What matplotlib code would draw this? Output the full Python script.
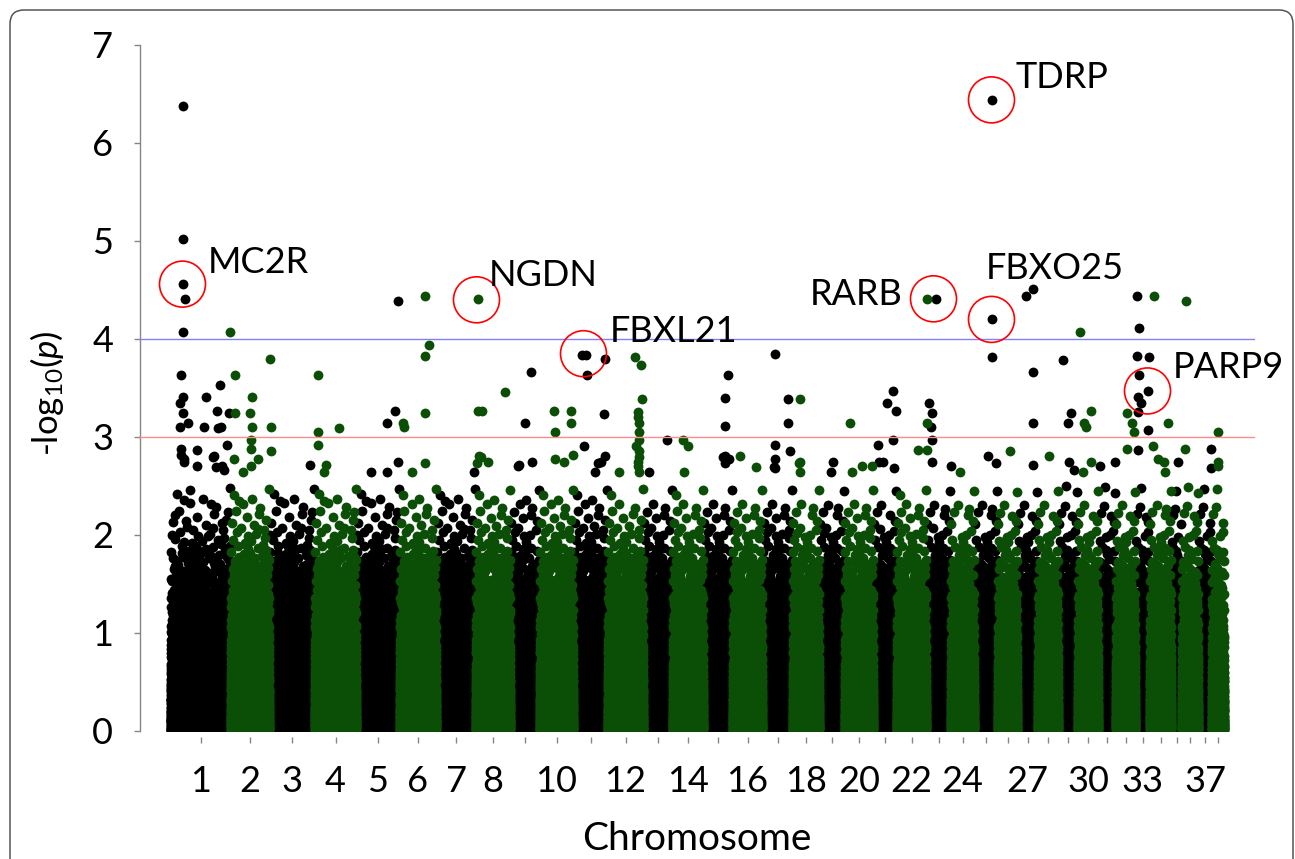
import numpy as np
import matplotlib
matplotlib.use("Agg")
import matplotlib.pyplot as plt
from matplotlib.patches import FancyBboxPatch
from matplotlib.transforms import IdentityTransform

plt.rcParams['font.family'] = ['Lato', 'DejaVu Sans']
plt.rcParams['mathtext.fontset'] = 'custom'
plt.rcParams['mathtext.rm'] = 'Lato'
plt.rcParams['mathtext.it'] = 'Lato:italic'

# ---------------- data ----------------
chromosomes = list(range(1, 39))
chrom_span = [60, 39, 45, 42, 43, 37, 39, 35, 29, 34, 34, 36, 29, 31, 29, 30, 30, 27, 25, 29,
              23, 30, 24, 24, 23, 20, 20, 21, 19, 21, 17, 20, 14, 22, 10, 17, 13, 13]
tick_labels = ['1', '2', '3', '4', '5', '6', '7', '8', '', '10', '', '12', '', '14', '', '16', '',
               '18', '', '20', '', '22', '', '24', '', '', '27', '', '', '30', '', '', '33', '', '',
               '', '37', '']
snps_per_unit = 60          # background SNP density per position unit
background_cap = 2.5        # background -log10(p) values shown up to this level

# SNPs with strongest association (chromosome, genome position, -log10 p)
sig_points = {
    1: [(12, 6.38), (12, 5.02), (12, 4.56), (14, 4.41), (12, 4.07), (10, 3.63), (49, 3.53), (12, 3.41),
        (35, 3.41), (9, 3.35), (46, 3.27), (58, 3.24), (12, 3.24), (9, 3.10), (33, 3.10), (47, 3.09),
        (17, 3.14), (50, 3.10), (10, 2.88), (26, 2.87), (56, 2.92), (43, 2.81), (51, 2.70), (13, 2.74),
        (26, 2.70), (42, 2.80), (45, 2.69), (53, 2.66), (13, 2.78), (10, 2.82)],
    2: [(59, 4.07), (64, 3.63), (99, 3.80), (81, 3.41), (64, 3.24), (79, 3.24), (81, 3.10), (100, 3.10),
        (80, 2.97), (80, 2.88), (100, 2.86), (63, 2.78), (87, 2.78), (80, 2.70), (72, 2.64)],
    3: [(139, 2.71)],
    4: [(147, 3.63), (147, 3.05), (168, 3.09), (147, 2.92), (153, 2.64), (155, 2.71)],
    5: [(227, 4.39), (224, 3.27), (216, 3.14), (227, 2.74), (200, 2.64), (216, 2.64)],
    6: [(254, 4.44), (258, 3.94), (254, 3.83), (254, 3.24), (232, 3.14), (233, 3.10), (254, 2.73), (241, 2.64)],
    7: [(303, 2.64)],
    8: [(307, 4.41), (334, 3.46), (307, 3.27), (311, 3.27), (308, 2.81), (317, 2.74), (306, 2.73), (310, 2.80)],
    9: [(360, 3.66), (354, 3.14), (347, 2.70), (361, 2.74), (348, 2.71)],
    10: [(383, 3.27), (400, 3.27), (400, 3.14), (384, 3.05), (384, 2.78), (402, 2.82), (393, 2.74)],
    11: [(415, 3.84), (411, 3.84), (434, 3.80), (416, 3.63), (433, 3.23), (413, 2.91), (430, 2.74),
         (434, 2.81), (427, 2.73), (424, 2.64)],
    12: [(464, 3.82), (470, 3.73), (471, 3.39), (467, 3.26), (467, 3.20), (468, 3.14), (468, 3.05),
         (468, 2.97), (465, 2.91), (468, 2.86), (468, 2.80), (467, 2.75), (467, 2.70), (468, 2.64), (448, 2.64)],
    13: [(496, 2.97), (478, 2.64)],
    14: [(512, 2.97), (517, 2.91), (513, 2.64)],
    15: [(557, 3.63), (554, 3.40), (554, 3.11), (554, 2.81), (558, 2.78), (552, 2.80), (554, 2.73)],
    16: [(569, 2.81), (585, 2.69)],
    17: [(604, 3.85), (617, 3.39), (617, 3.14), (604, 2.92), (619, 2.86), (604, 2.78), (604, 2.68), (603, 2.69)],
    18: [(629, 3.39), (629, 2.74), (629, 2.64), (628, 2.73)],
    19: [(662, 2.74), (660, 2.64)],
    20: [(679, 3.14), (681, 2.64), (691, 2.70), (701, 2.70)],
    21: [(707, 2.92), (708, 2.74), (712, 2.74), (722, 3.47), (716, 3.35), (725, 3.27), (722, 2.97), (723, 2.68)],
    22: [(756, 4.41), (756, 3.14), (747, 2.87), (756, 2.87)],
    23: [(765, 4.41), (758, 3.35), (761, 3.25), (760, 3.10), (761, 2.97), (761, 2.74), (780, 2.70)],
    24: [(789, 2.64)],
    25: [(821, 6.44), (821, 4.20), (821, 3.82), (817, 2.81), (825, 2.73)],
    26: [(839, 2.86)],
    27: [(855, 4.44), (862, 4.51), (862, 3.66), (862, 3.14), (862, 2.71)],
    28: [(878, 2.81)],
    29: [(892, 3.79), (900, 3.24), (897, 3.14), (898, 2.74), (903, 2.66)],
    30: [(909, 4.07), (920, 3.27), (913, 3.14), (915, 3.10), (920, 2.74), (912, 2.64)],
    31: [(929, 2.70), (944, 2.74)],
    32: [(956, 3.24), (961, 3.14), (963, 3.05), (956, 2.88)],
    33: [(966, 4.44), (968, 4.11), (966, 3.83), (978, 3.82), (968, 3.63), (977, 3.47), (967, 3.41),
         (970, 3.35), (967, 3.26), (977, 3.07), (967, 2.87)],
    34: [(983, 4.44), (997, 3.14), (982, 2.91), (987, 2.78), (993, 2.74), (994, 2.64)],
    35: [(1007, 2.74)],
    36: [(1015, 4.39), (1014, 2.88)],
    37: [(1040, 2.88), (1040, 2.68)],
    38: [(1047, 3.05), (1047, 2.74), (1047, 2.70)],
}

gene_names = ['MC2R', 'NGDN', 'FBXL21', 'RARB', 'FBXO25', 'TDRP', 'PARP9']
gene_pos = [12, 306, 413, 763, 821, 821, 977]
gene_val = [4.56, 4.40, 3.85, 4.41, 4.20, 6.44, 3.47]

threshold_suggestive = 3.0
threshold_strong = 4.0


def radical_inverse(k, base):
    """Van der Corput radical inverse (quasi-uniform spread of SNP ranks)."""
    k = np.asarray(k, dtype=np.int64).copy()
    out = np.zeros(k.shape, dtype=float)
    f = 1.0 / base
    while np.any(k > 0):
        out += f * (k % base)
        k //= base
        f /= base
    return out


# ---------------- figure ----------------
W, H = 1295, 859
fig = plt.figure(figsize=(W / 100, H / 100), dpi=100)
ax = fig.add_axes([140 / W, 1 - 731 / H, 1115 / W, 686 / H])

starts = np.concatenate([[0], np.cumsum(chrom_span)[:-1]])
centers = starts + np.array(chrom_span) / 2.0

xs = {0: [], 1: []}
ys = {0: [], 1: []}
for c, st, w in zip(chromosomes, starts, chrom_span):
    n = int(round(w * snps_per_unit))
    k = np.arange(1, n + 1) + 7 * c
    pvals = (radical_inverse(k, 3) * n + 0.5) / (n + 1)
    vals = -np.log10(pvals)
    pos = st + w * radical_inverse(k, 2)
    keep = vals <= background_cap
    grp = c % 2  # 1 = odd (black), 0 = even (green)
    xs[grp].append(pos[keep])
    ys[grp].append(vals[keep])
    sp = np.array(sig_points[c])
    xs[grp].append(sp[:, 0])
    ys[grp].append(sp[:, 1])

black = '#000000'
green = '#0b4f06'
ms = 50
ax.scatter(np.concatenate(xs[1]), np.concatenate(ys[1]), s=ms, c=black, linewidths=0, zorder=2)
ax.scatter(np.concatenate(xs[0]), np.concatenate(ys[0]), s=ms, c=green, linewidths=0, zorder=3)

ax.axhline(threshold_strong, color='#8080ff', lw=1.0, zorder=4)
ax.axhline(threshold_suggestive, color='#ff8a8a', lw=1.0, zorder=4)

# gene circles and labels
ax.scatter(gene_pos, gene_val, s=(46 * 0.72) ** 2, facecolors='none', edgecolors='#ff0000',
           linewidths=1.2, zorder=5)
label_offsets = {'MC2R': (25, 11, 'left'), 'NGDN': (12, 14, 'left'), 'FBXL21': (26, 12, 'left'),
                 'RARB': (-31, -6, 'right'), 'FBXO25': (-6, 40, 'left'), 'TDRP': (24, 12, 'left'),
                 'PARP9': (25, 13, 'left')}
for g, xg, yg in zip(gene_names, gene_pos, gene_val):
    dx, dy, ha = label_offsets[g]
    ax.annotate(g, (xg, yg), xytext=(dx * 0.72, dy * 0.72), textcoords='offset points',
                ha=ha, va='baseline', fontsize=26, zorder=6)

ax.set_xlim(-30.5, 1084.5)
ax.set_ylim(0, 7)
ax.set_yticks(range(0, 8))
ax.set_xticks(centers)
ax.set_xticklabels(tick_labels)

for s in ['top', 'right']:
    ax.spines[s].set_visible(False)
ax.spines['bottom'].set_visible(False)
ax.spines['bottom'].set_position(('outward', 4.3))
ax.spines['left'].set_color('#868686')
ax.spines['left'].set_linewidth(1.0)
ax.tick_params(axis='y', direction='out', length=4.3, width=1.0, color='#868686',
               labelsize=26, pad=15)
ax.tick_params(axis='x', direction='out', length=4.3, width=1.0, color='#868686',
               labelsize=26, pad=16)
ax.patch.set_visible(False)

fig.text(697 / W, 1 - 850 / H, 'Chromosome', ha='center', va='baseline', fontsize=28)
fig.text(47 / W, 1 - 393 / H, r'-log$_{10}$($\it{p}$)', rotation=90, ha='center', va='center',
         fontsize=25)

frame = FancyBboxPatch((10, -40), 1283, 859 - 10 + 40, boxstyle='round,pad=0,rounding_size=14',
                       transform=IdentityTransform(), fill=False, edgecolor='#555555', lw=1.1)
fig.patches.append(frame)

fig.savefig('out.png', dpi=100)
